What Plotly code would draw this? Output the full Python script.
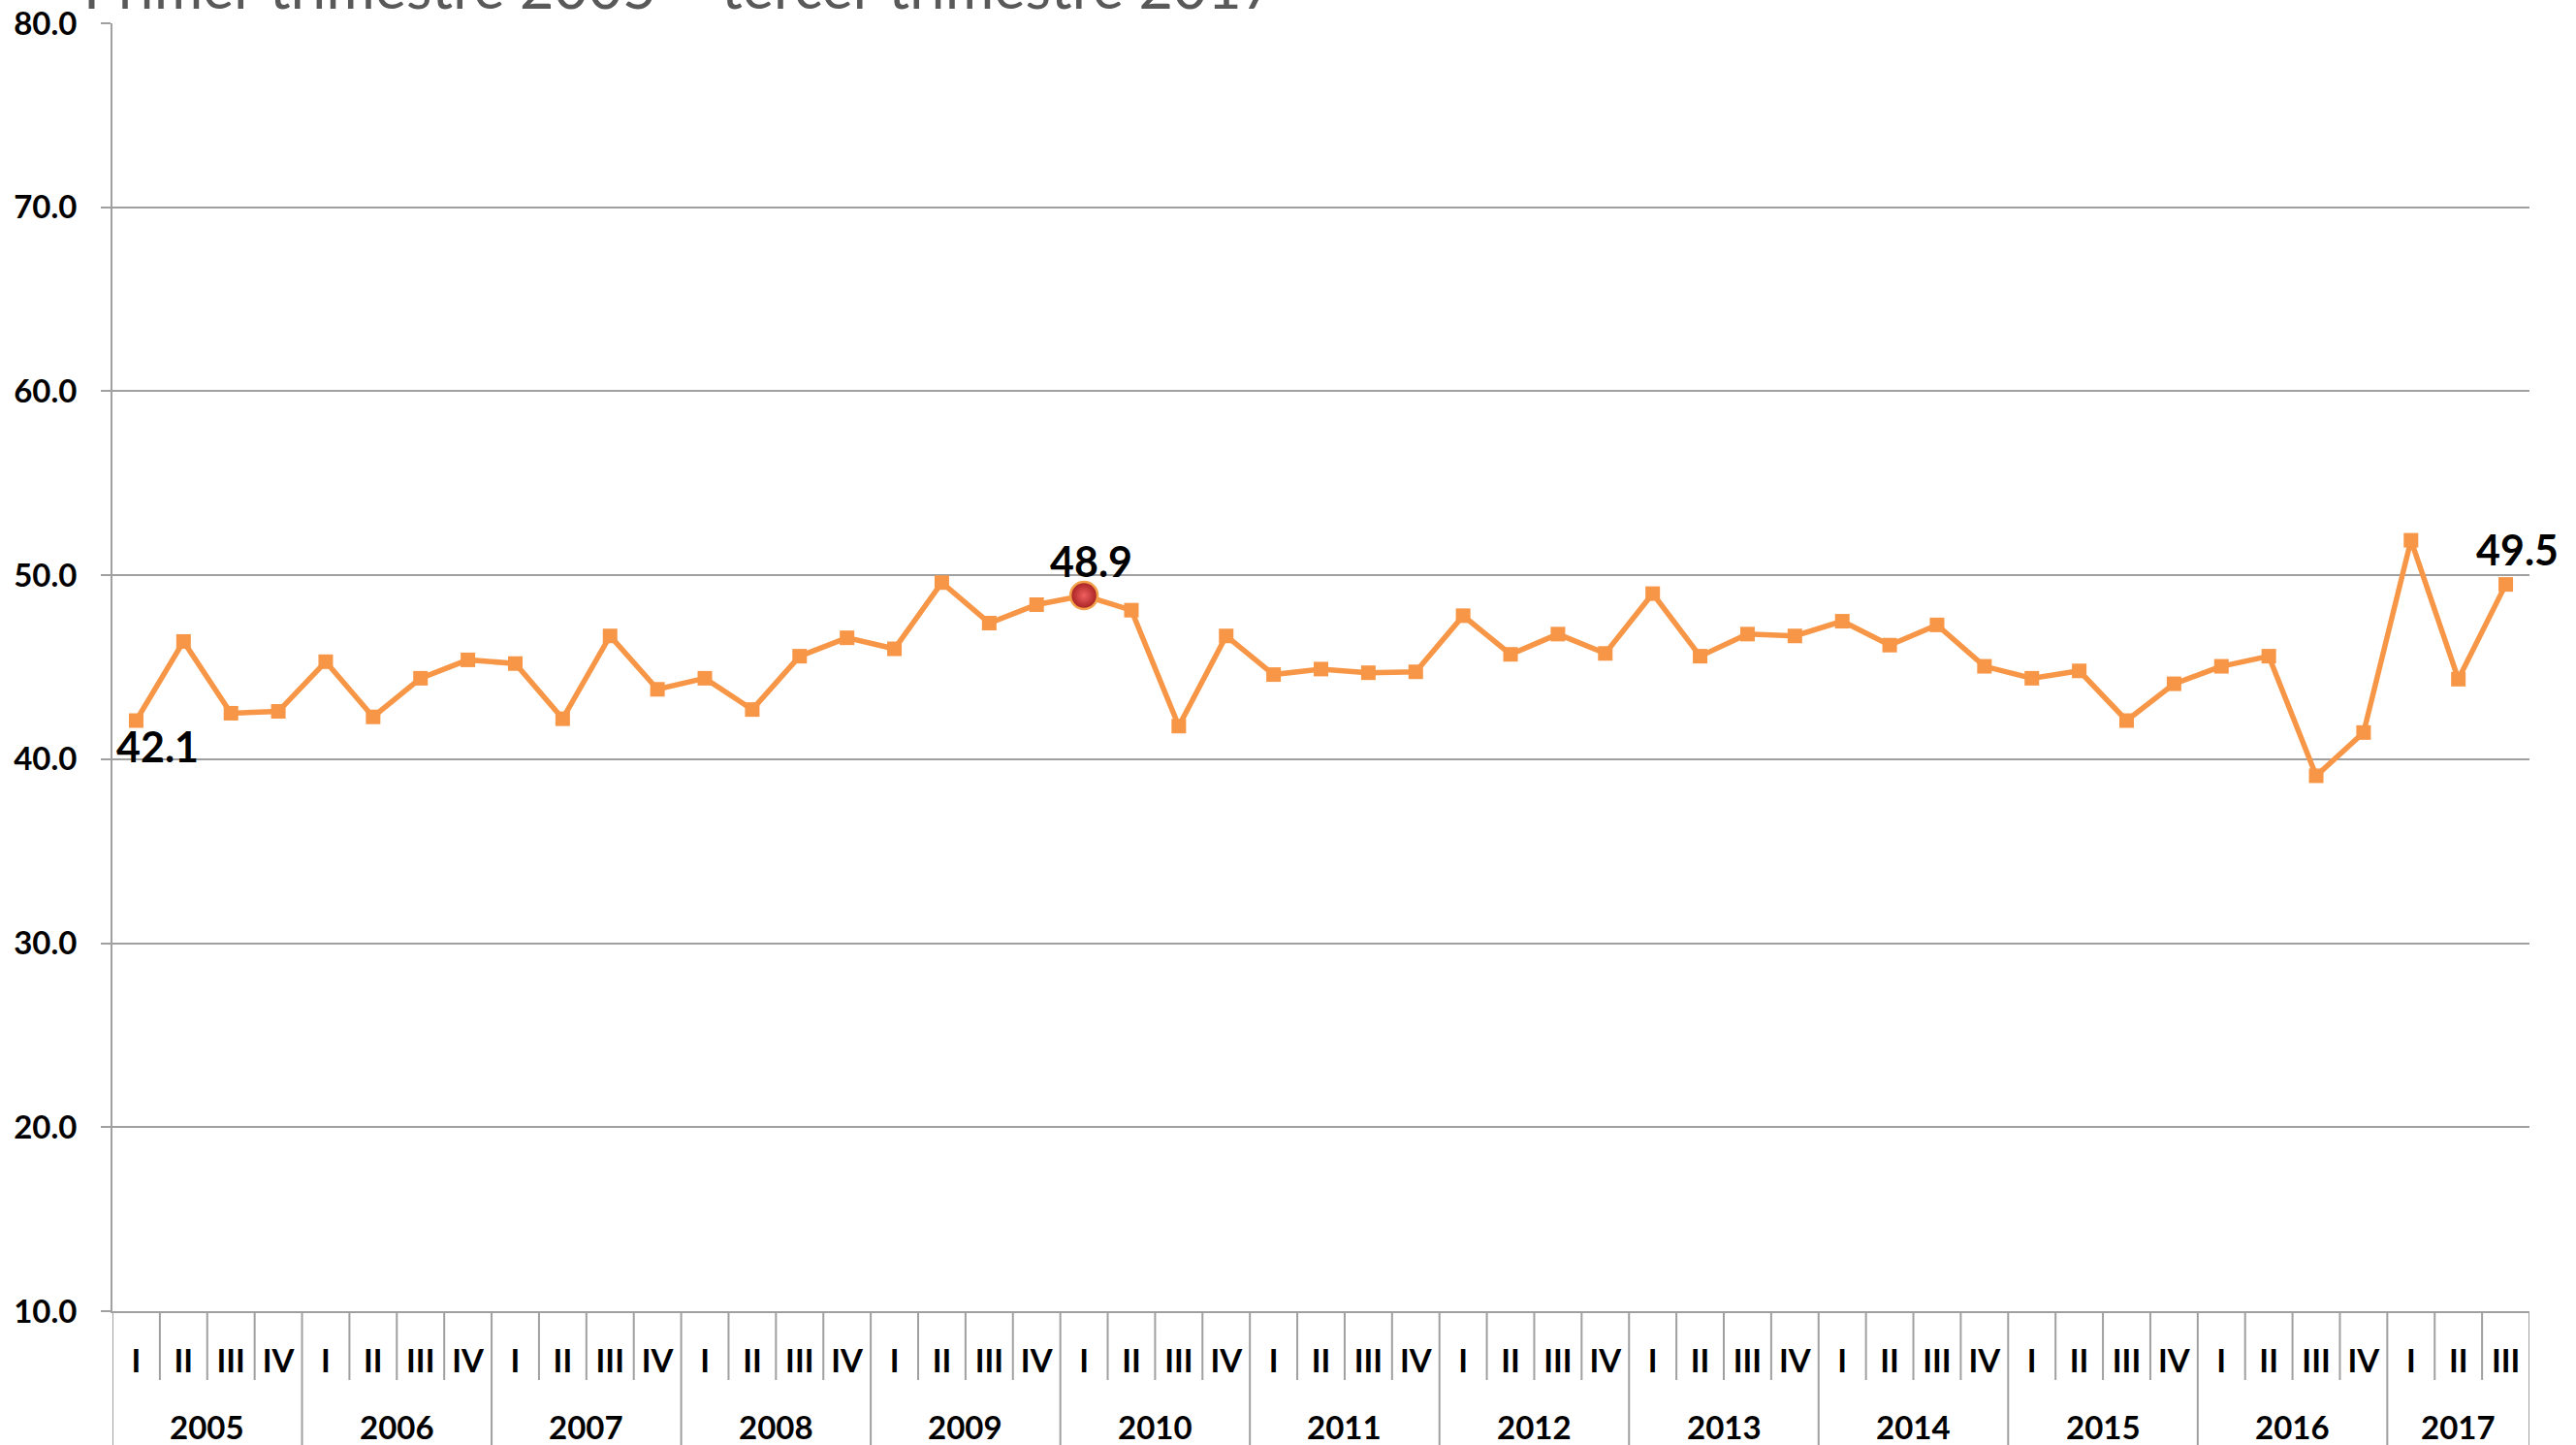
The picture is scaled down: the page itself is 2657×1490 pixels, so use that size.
import plotly.graph_objects as go

# ---- data ----
years = ["2005"] * 4 + ["2006"] * 4 + ["2007"] * 4 + ["2008"] * 4 + ["2009"] * 4 + \
        ["2010"] * 4 + ["2011"] * 4 + ["2012"] * 4 + ["2013"] * 4 + ["2014"] * 4 + \
        ["2015"] * 4 + ["2016"] * 4 + ["2017"] * 3
quarters = ["I", "II", "III", "IV"] * 12 + ["I", "II", "III"]
values = [42.1, 46.4, 42.5, 42.6,
          45.3, 42.3, 44.4, 45.4,
          45.2, 42.2, 46.7, 43.8,
          44.4, 42.7, 45.6, 46.6,
          46.0, 49.6, 47.4, 48.4,
          48.9, 48.1, 41.8, 46.7,
          44.6, 44.9, 44.7, 44.75,
          47.8, 45.7, 46.8, 45.75,
          49.0, 45.6, 46.8, 46.7,
          47.5, 46.2, 47.3, 45.05,
          44.4, 44.8, 42.1, 44.1,
          45.05, 45.6, 39.1, 41.45,
          51.9, 44.35, 49.5]
label_idx = [0, 20, 50]          # labelled points
highlight_idx = 20               # 2010 I
title_text = "Primer trimestre 2005 – tercer trimestre 2017"
y_ticks = [10, 20, 30, 40, 50, 60, 70, 80]

ORANGE = "#F79646"
GRID = "#A0A0A0"
FONT = "Lato"

W, H = 2657, 1490
ML, MR, MT, MB = 116, 48, 24, 138
plot_h = H - MT - MB

cats = [f"{y} {q}" for y, q in zip(years, quarters)]
n = len(cats)

fig = go.Figure()
fig.add_trace(go.Scatter(
    x=cats, y=values, mode="lines+markers",
    line=dict(color=ORANGE, width=5.5),
    marker=dict(symbol="square", size=15, color=ORANGE),
    showlegend=False, hoverinfo="skip"))

fig.add_trace(go.Scatter(
    x=[cats[highlight_idx]], y=[values[highlight_idx]],
    mode="markers",
    marker=dict(symbol="circle", size=28, color="#A52020",
                gradient=dict(type="radial", color="#F06060"),
                line=dict(color="#F2A04A", width=2.5)),
    showlegend=False, hoverinfo="skip"))

shifts = {0: (22, -26), 20: (7, 36), 50: (12, 36)}
for i in label_idx:
    xs, ys = shifts[i]
    fig.add_annotation(x=cats[i], y=values[i],
                       xref="x", yref="y", text=f"{values[i]:.1f}", showarrow=False,
                       font=dict(family=FONT, size=43, color="black", weight="bold"),
                       xshift=xs, yshift=ys)

fig.add_annotation(x=0, y=1, xref="paper", yref="paper", xanchor="left", yanchor="bottom",
                   text=title_text, showarrow=False, xshift=-32, yshift=0,
                   font=dict(family=FONT, size=61, color="#595959"))

# quarter separators (short) and year separators (long), at category boundaries
shapes = []
year_list = []
for y in years:
    if y not in year_list:
        year_list.append(y)
starts = [years.index(y) for y in year_list]
for b in range(n + 1):
    is_year = b in starts or b == n
    y1 = -(MB + 5) / plot_h if is_year else -71 / plot_h
    shapes.append(dict(type="line", xref="x", yref="paper", x0=b - 0.5, x1=b - 0.5,
                       y0=0, y1=y1, line=dict(color=GRID, width=2)))
fig.update_layout(shapes=shapes)

for y, s in zip(year_list, starts):
    cnt = years.count(y)
    fig.add_annotation(x=s + (cnt - 1) / 2, y=-119 / plot_h, xref="x", yref="paper",
                       text=y, showarrow=False, yanchor="middle",
                       font=dict(family=FONT, size=33, color="black", weight="bold"))

fig.update_layout(
    width=W, height=H,
    margin=dict(l=ML, r=MR, t=MT, b=MB),
    paper_bgcolor="white", plot_bgcolor="white",
    font=dict(family=FONT),
)
fig.update_yaxes(range=[10, 80], tickvals=y_ticks, tickformat=".1f",
                 showgrid=True, gridcolor=GRID, gridwidth=2,
                 showline=True, linecolor=GRID, linewidth=2,
                 ticks="outside", ticklen=10, tickcolor=GRID, tickwidth=2,
                 ticklabelstandoff=18, automargin=False,
                 tickfont=dict(family=FONT, size=33, color="black", weight="bold"),
                 zeroline=False)
fig.update_xaxes(type="category", range=[-0.5, n - 0.5],
                 tickvals=cats, ticktext=quarters,
                 showline=True, linecolor=GRID, linewidth=2,
                 ticks="", ticklabelstandoff=21, automargin=False,
                 tickfont=dict(family=FONT, size=33, color="black", weight="bold"),
                 showgrid=False)

fig.write_html("out.html", config={"displayModeBar": False},
               post_script="document.body.style.margin='0';document.body.style.overflow='hidden';")
